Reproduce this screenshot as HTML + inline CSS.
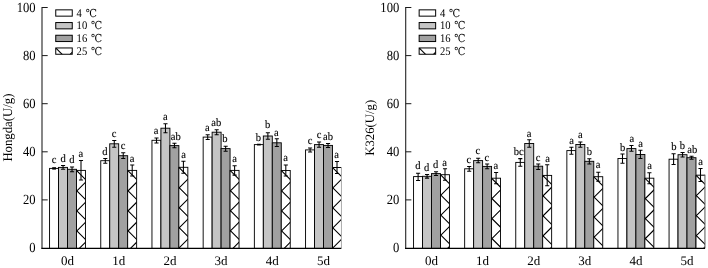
<!DOCTYPE html>
<html><head><meta charset="utf-8"><title>chart</title>
<style>
html,body{margin:0;padding:0;background:#fff;}
svg{display:block;}
text{font-family:"Liberation Serif","DejaVu Serif","Noto Serif CJK SC",serif;fill:#000;text-rendering:geometricPrecision;}
.lt{stroke:#000;stroke-width:0.12px;}
.dc{font-family:"DejaVu Serif","Noto Serif CJK SC",serif;}
</style></head><body>
<svg width="708" height="268" viewBox="0 0 708 268">
<rect width="708" height="268" fill="#fff"/>
<rect x="49.56" y="168.40" width="8.97" height="80.00" fill="#ffffff"/>
<rect x="49.56" y="168.40" width="8.97" height="80.00" fill="none" stroke="#000" stroke-width="0.92"/>
<rect x="58.53" y="167.40" width="8.97" height="81.00" fill="#c5c5c5"/>
<rect x="58.53" y="167.40" width="8.97" height="81.00" fill="none" stroke="#000" stroke-width="0.92"/>
<rect x="67.50" y="169.30" width="8.97" height="79.10" fill="#a1a1a1"/>
<rect x="67.50" y="169.30" width="8.97" height="79.10" fill="none" stroke="#000" stroke-width="0.92"/>
<rect x="76.47" y="170.40" width="8.97" height="78.00" fill="#ffffff"/>
<clipPath id="h1"><rect x="76.47" y="170.40" width="8.97" height="78.00"/></clipPath><path clip-path="url(#h1)" d="M74.47 28.40L87.44 41.37M87.44 40.23L74.47 53.20M74.47 48.40L87.44 61.37M87.44 60.23L74.47 73.20M74.47 68.40L87.44 81.37M87.44 80.23L74.47 93.20M74.47 88.40L87.44 101.37M87.44 100.23L74.47 113.20M74.47 108.40L87.44 121.37M87.44 120.23L74.47 133.20M74.47 128.40L87.44 141.37M87.44 140.23L74.47 153.20M74.47 148.40L87.44 161.37M87.44 160.23L74.47 173.20M74.47 168.40L87.44 181.37M87.44 180.23L74.47 193.20M74.47 188.40L87.44 201.37M87.44 200.23L74.47 213.20M74.47 208.40L87.44 221.37M87.44 220.23L74.47 233.20M74.47 228.40L87.44 241.37M87.44 240.23L74.47 253.20M74.47 248.40L87.44 261.37M87.44 260.23L74.47 273.20M74.47 268.40L87.44 281.37M87.44 280.23L74.47 293.20M74.47 288.40L87.44 301.37M87.44 300.23L74.47 313.20M74.47 308.40L87.44 321.37M87.44 320.23L74.47 333.20" stroke="#000" stroke-width="1.1" fill="none"/>
<rect x="76.47" y="170.40" width="8.97" height="78.00" fill="none" stroke="#000" stroke-width="0.92"/>
<rect x="100.76" y="160.70" width="8.97" height="87.70" fill="#ffffff"/>
<rect x="100.76" y="160.70" width="8.97" height="87.70" fill="none" stroke="#000" stroke-width="0.92"/>
<rect x="109.73" y="143.80" width="8.97" height="104.60" fill="#c5c5c5"/>
<rect x="109.73" y="143.80" width="8.97" height="104.60" fill="none" stroke="#000" stroke-width="0.92"/>
<rect x="118.70" y="155.70" width="8.97" height="92.70" fill="#a1a1a1"/>
<rect x="118.70" y="155.70" width="8.97" height="92.70" fill="none" stroke="#000" stroke-width="0.92"/>
<rect x="127.67" y="170.40" width="8.97" height="78.00" fill="#ffffff"/>
<clipPath id="h2"><rect x="127.67" y="170.40" width="8.97" height="78.00"/></clipPath><path clip-path="url(#h2)" d="M125.67 28.40L138.64 41.37M138.64 40.23L125.67 53.20M125.67 48.40L138.64 61.37M138.64 60.23L125.67 73.20M125.67 68.40L138.64 81.37M138.64 80.23L125.67 93.20M125.67 88.40L138.64 101.37M138.64 100.23L125.67 113.20M125.67 108.40L138.64 121.37M138.64 120.23L125.67 133.20M125.67 128.40L138.64 141.37M138.64 140.23L125.67 153.20M125.67 148.40L138.64 161.37M138.64 160.23L125.67 173.20M125.67 168.40L138.64 181.37M138.64 180.23L125.67 193.20M125.67 188.40L138.64 201.37M138.64 200.23L125.67 213.20M125.67 208.40L138.64 221.37M138.64 220.23L125.67 233.20M125.67 228.40L138.64 241.37M138.64 240.23L125.67 253.20M125.67 248.40L138.64 261.37M138.64 260.23L125.67 273.20M125.67 268.40L138.64 281.37M138.64 280.23L125.67 293.20M125.67 288.40L138.64 301.37M138.64 300.23L125.67 313.20M125.67 308.40L138.64 321.37M138.64 320.23L125.67 333.20" stroke="#000" stroke-width="1.1" fill="none"/>
<rect x="127.67" y="170.40" width="8.97" height="78.00" fill="none" stroke="#000" stroke-width="0.92"/>
<rect x="151.96" y="140.30" width="8.97" height="108.10" fill="#ffffff"/>
<rect x="151.96" y="140.30" width="8.97" height="108.10" fill="none" stroke="#000" stroke-width="0.92"/>
<rect x="160.93" y="128.20" width="8.97" height="120.20" fill="#c5c5c5"/>
<rect x="160.93" y="128.20" width="8.97" height="120.20" fill="none" stroke="#000" stroke-width="0.92"/>
<rect x="169.90" y="145.60" width="8.97" height="102.80" fill="#a1a1a1"/>
<rect x="169.90" y="145.60" width="8.97" height="102.80" fill="none" stroke="#000" stroke-width="0.92"/>
<rect x="178.87" y="167.30" width="8.97" height="81.10" fill="#ffffff"/>
<clipPath id="h3"><rect x="178.87" y="167.30" width="8.97" height="81.10"/></clipPath><path clip-path="url(#h3)" d="M176.87 25.30L189.84 38.27M189.84 37.13L176.87 50.10M176.87 45.30L189.84 58.27M189.84 57.13L176.87 70.10M176.87 65.30L189.84 78.27M189.84 77.13L176.87 90.10M176.87 85.30L189.84 98.27M189.84 97.13L176.87 110.10M176.87 105.30L189.84 118.27M189.84 117.13L176.87 130.10M176.87 125.30L189.84 138.27M189.84 137.13L176.87 150.10M176.87 145.30L189.84 158.27M189.84 157.13L176.87 170.10M176.87 165.30L189.84 178.27M189.84 177.13L176.87 190.10M176.87 185.30L189.84 198.27M189.84 197.13L176.87 210.10M176.87 205.30L189.84 218.27M189.84 217.13L176.87 230.10M176.87 225.30L189.84 238.27M189.84 237.13L176.87 250.10M176.87 245.30L189.84 258.27M189.84 257.13L176.87 270.10M176.87 265.30L189.84 278.27M189.84 277.13L176.87 290.10M176.87 285.30L189.84 298.27M189.84 297.13L176.87 310.10M176.87 305.30L189.84 318.27M189.84 317.13L176.87 330.10" stroke="#000" stroke-width="1.1" fill="none"/>
<rect x="178.87" y="167.30" width="8.97" height="81.10" fill="none" stroke="#000" stroke-width="0.92"/>
<rect x="203.16" y="137.10" width="8.97" height="111.30" fill="#ffffff"/>
<rect x="203.16" y="137.10" width="8.97" height="111.30" fill="none" stroke="#000" stroke-width="0.92"/>
<rect x="212.13" y="132.20" width="8.97" height="116.20" fill="#c5c5c5"/>
<rect x="212.13" y="132.20" width="8.97" height="116.20" fill="none" stroke="#000" stroke-width="0.92"/>
<rect x="221.10" y="148.60" width="8.97" height="99.80" fill="#a1a1a1"/>
<rect x="221.10" y="148.60" width="8.97" height="99.80" fill="none" stroke="#000" stroke-width="0.92"/>
<rect x="230.07" y="170.40" width="8.97" height="78.00" fill="#ffffff"/>
<clipPath id="h4"><rect x="230.07" y="170.40" width="8.97" height="78.00"/></clipPath><path clip-path="url(#h4)" d="M228.07 28.40L241.04 41.37M241.04 40.23L228.07 53.20M228.07 48.40L241.04 61.37M241.04 60.23L228.07 73.20M228.07 68.40L241.04 81.37M241.04 80.23L228.07 93.20M228.07 88.40L241.04 101.37M241.04 100.23L228.07 113.20M228.07 108.40L241.04 121.37M241.04 120.23L228.07 133.20M228.07 128.40L241.04 141.37M241.04 140.23L228.07 153.20M228.07 148.40L241.04 161.37M241.04 160.23L228.07 173.20M228.07 168.40L241.04 181.37M241.04 180.23L228.07 193.20M228.07 188.40L241.04 201.37M241.04 200.23L228.07 213.20M228.07 208.40L241.04 221.37M241.04 220.23L228.07 233.20M228.07 228.40L241.04 241.37M241.04 240.23L228.07 253.20M228.07 248.40L241.04 261.37M241.04 260.23L228.07 273.20M228.07 268.40L241.04 281.37M241.04 280.23L228.07 293.20M228.07 288.40L241.04 301.37M241.04 300.23L228.07 313.20M228.07 308.40L241.04 321.37M241.04 320.23L228.07 333.20" stroke="#000" stroke-width="1.1" fill="none"/>
<rect x="230.07" y="170.40" width="8.97" height="78.00" fill="none" stroke="#000" stroke-width="0.92"/>
<rect x="254.36" y="144.60" width="8.97" height="103.80" fill="#ffffff"/>
<rect x="254.36" y="144.60" width="8.97" height="103.80" fill="none" stroke="#000" stroke-width="0.92"/>
<rect x="263.33" y="136.00" width="8.97" height="112.40" fill="#c5c5c5"/>
<rect x="263.33" y="136.00" width="8.97" height="112.40" fill="none" stroke="#000" stroke-width="0.92"/>
<rect x="272.30" y="142.80" width="8.97" height="105.60" fill="#a1a1a1"/>
<rect x="272.30" y="142.80" width="8.97" height="105.60" fill="none" stroke="#000" stroke-width="0.92"/>
<rect x="281.27" y="170.50" width="8.97" height="77.90" fill="#ffffff"/>
<clipPath id="h5"><rect x="281.27" y="170.50" width="8.97" height="77.90"/></clipPath><path clip-path="url(#h5)" d="M279.27 28.50L292.24 41.47M292.24 40.33L279.27 53.30M279.27 48.50L292.24 61.47M292.24 60.33L279.27 73.30M279.27 68.50L292.24 81.47M292.24 80.33L279.27 93.30M279.27 88.50L292.24 101.47M292.24 100.33L279.27 113.30M279.27 108.50L292.24 121.47M292.24 120.33L279.27 133.30M279.27 128.50L292.24 141.47M292.24 140.33L279.27 153.30M279.27 148.50L292.24 161.47M292.24 160.33L279.27 173.30M279.27 168.50L292.24 181.47M292.24 180.33L279.27 193.30M279.27 188.50L292.24 201.47M292.24 200.33L279.27 213.30M279.27 208.50L292.24 221.47M292.24 220.33L279.27 233.30M279.27 228.50L292.24 241.47M292.24 240.33L279.27 253.30M279.27 248.50L292.24 261.47M292.24 260.33L279.27 273.30M279.27 268.50L292.24 281.47M292.24 280.33L279.27 293.30M279.27 288.50L292.24 301.47M292.24 300.33L279.27 313.30M279.27 308.50L292.24 321.47M292.24 320.33L279.27 333.30" stroke="#000" stroke-width="1.1" fill="none"/>
<rect x="281.27" y="170.50" width="8.97" height="77.90" fill="none" stroke="#000" stroke-width="0.92"/>
<rect x="305.56" y="149.90" width="8.97" height="98.50" fill="#ffffff"/>
<rect x="305.56" y="149.90" width="8.97" height="98.50" fill="none" stroke="#000" stroke-width="0.92"/>
<rect x="314.53" y="144.60" width="8.97" height="103.80" fill="#c5c5c5"/>
<rect x="314.53" y="144.60" width="8.97" height="103.80" fill="none" stroke="#000" stroke-width="0.92"/>
<rect x="323.50" y="145.40" width="8.97" height="103.00" fill="#a1a1a1"/>
<rect x="323.50" y="145.40" width="8.97" height="103.00" fill="none" stroke="#000" stroke-width="0.92"/>
<rect x="332.47" y="167.50" width="8.97" height="80.90" fill="#ffffff"/>
<clipPath id="h6"><rect x="332.47" y="167.50" width="8.97" height="80.90"/></clipPath><path clip-path="url(#h6)" d="M330.47 25.50L343.44 38.47M343.44 37.33L330.47 50.30M330.47 45.50L343.44 58.47M343.44 57.33L330.47 70.30M330.47 65.50L343.44 78.47M343.44 77.33L330.47 90.30M330.47 85.50L343.44 98.47M343.44 97.33L330.47 110.30M330.47 105.50L343.44 118.47M343.44 117.33L330.47 130.30M330.47 125.50L343.44 138.47M343.44 137.33L330.47 150.30M330.47 145.50L343.44 158.47M343.44 157.33L330.47 170.30M330.47 165.50L343.44 178.47M343.44 177.33L330.47 190.30M330.47 185.50L343.44 198.47M343.44 197.33L330.47 210.30M330.47 205.50L343.44 218.47M343.44 217.33L330.47 230.30M330.47 225.50L343.44 238.47M343.44 237.33L330.47 250.30M330.47 245.50L343.44 258.47M343.44 257.33L330.47 270.30M330.47 265.50L343.44 278.47M343.44 277.33L330.47 290.30M330.47 285.50L343.44 298.47M343.44 297.33L330.47 310.30M330.47 305.50L343.44 318.47M343.44 317.33L330.47 330.30" stroke="#000" stroke-width="1.1" fill="none"/>
<path d="M332.47 248.40V167.50H341.44" fill="none" stroke="#000" stroke-width="1"/>
<path d="M341.44 167.00V248.40" fill="none" stroke="#aaa" stroke-width="1"/>
<path d="M52.20 168.40H55.99" stroke="#000" stroke-width="2.40" fill="none"/>
<path d="M63.06 165.40V169.30M61.02 165.40H65.11M61.02 169.30H65.11" stroke="#000" stroke-width="1.05" fill="none"/>
<path d="M72.03 166.90V171.70M69.98 166.90H74.08M69.98 171.70H74.08" stroke="#000" stroke-width="1.05" fill="none"/>
<path d="M81.00 160.50V180.00M78.95 160.50H83.05M78.95 180.00H83.05" stroke="#000" stroke-width="1.05" fill="none"/>
<path d="M105.30 158.40V163.20M103.25 158.40H107.34M103.25 163.20H107.34" stroke="#000" stroke-width="1.05" fill="none"/>
<path d="M114.27 140.50V147.20M112.22 140.50H116.31M112.22 147.20H116.31" stroke="#000" stroke-width="1.05" fill="none"/>
<path d="M123.23 152.80V158.40M121.19 152.80H125.28M121.19 158.40H125.28" stroke="#000" stroke-width="1.05" fill="none"/>
<path d="M132.21 165.00V176.00M130.16 165.00H134.26M130.16 176.00H134.26" stroke="#000" stroke-width="1.05" fill="none"/>
<path d="M156.50 137.90V142.90M154.45 137.90H158.55M154.45 142.90H158.55" stroke="#000" stroke-width="1.05" fill="none"/>
<path d="M165.47 123.70V132.70M163.42 123.70H167.52M163.42 132.70H167.52" stroke="#000" stroke-width="1.05" fill="none"/>
<path d="M174.44 143.30V147.80M172.39 143.30H176.49M172.39 147.80H176.49" stroke="#000" stroke-width="1.05" fill="none"/>
<path d="M183.41 161.30V173.30M181.36 161.30H185.46M181.36 173.30H185.46" stroke="#000" stroke-width="1.05" fill="none"/>
<path d="M207.70 134.80V139.40M205.65 134.80H209.75M205.65 139.40H209.75" stroke="#000" stroke-width="1.05" fill="none"/>
<path d="M216.67 129.70V134.80M214.62 129.70H218.72M214.62 134.80H218.72" stroke="#000" stroke-width="1.05" fill="none"/>
<path d="M225.64 146.20V151.20M223.59 146.20H227.69M223.59 151.20H227.69" stroke="#000" stroke-width="1.05" fill="none"/>
<path d="M234.61 165.70V175.10M232.56 165.70H236.66M232.56 175.10H236.66" stroke="#000" stroke-width="1.05" fill="none"/>
<path d="M257.00 144.60H260.80" stroke="#000" stroke-width="1.70" fill="none"/>
<path d="M267.87 132.70V139.30M265.82 132.70H269.92M265.82 139.30H269.92" stroke="#000" stroke-width="1.05" fill="none"/>
<path d="M276.84 138.70V146.40M274.79 138.70H278.89M274.79 146.40H278.89" stroke="#000" stroke-width="1.05" fill="none"/>
<path d="M285.81 165.00V176.00M283.76 165.00H287.86M283.76 176.00H287.86" stroke="#000" stroke-width="1.05" fill="none"/>
<path d="M310.10 147.90V152.00M308.05 147.90H312.15M308.05 152.00H312.15" stroke="#000" stroke-width="1.05" fill="none"/>
<path d="M319.07 141.90V147.20M317.02 141.90H321.12M317.02 147.20H321.12" stroke="#000" stroke-width="1.05" fill="none"/>
<path d="M328.04 143.40V147.50M325.99 143.40H330.09M325.99 147.50H330.09" stroke="#000" stroke-width="1.05" fill="none"/>
<path d="M337.01 161.50V173.50M334.96 161.50H339.06M334.96 173.50H339.06" stroke="#000" stroke-width="1.05" fill="none"/>
<path d="M42.00 6.90V248.40" stroke="#444" stroke-width="1.3" fill="none"/>
<path d="M41.35 248.40H341.30" stroke="#000" stroke-width="1.3" fill="none"/>
<path d="M42.00 7.50H47.70" stroke="#1a1a1a" stroke-width="1.0" fill="none"/>
<text transform="translate(35.60 11.60) scale(0.970 1.070)" text-anchor="end" font-size="13">100</text>
<path d="M42.00 55.60H47.70" stroke="#1a1a1a" stroke-width="1.0" fill="none"/>
<text transform="translate(35.60 59.70) scale(0.970 1.070)" text-anchor="end" font-size="13">80</text>
<path d="M42.00 103.70H47.70" stroke="#1a1a1a" stroke-width="1.0" fill="none"/>
<text transform="translate(35.60 107.80) scale(0.970 1.070)" text-anchor="end" font-size="13">60</text>
<path d="M42.00 151.80H47.70" stroke="#1a1a1a" stroke-width="1.0" fill="none"/>
<text transform="translate(35.60 155.90) scale(0.970 1.070)" text-anchor="end" font-size="13">40</text>
<path d="M42.00 199.90H47.70" stroke="#1a1a1a" stroke-width="1.0" fill="none"/>
<text transform="translate(35.60 204.00) scale(0.970 1.070)" text-anchor="end" font-size="13">20</text>
<text transform="translate(35.60 252.10) scale(0.970 1.070)" text-anchor="end" font-size="13">0</text>
<text x="67.50" y="265.00" text-anchor="middle" font-size="13">0d</text>
<text x="118.70" y="265.00" text-anchor="middle" font-size="13">1d</text>
<text x="169.90" y="265.00" text-anchor="middle" font-size="13">2d</text>
<text x="221.10" y="265.00" text-anchor="middle" font-size="13">3d</text>
<text x="272.30" y="265.00" text-anchor="middle" font-size="13">4d</text>
<text x="323.50" y="265.00" text-anchor="middle" font-size="13">5d</text>
<text transform="translate(54.00 163.30) scale(1.000 1.040)" text-anchor="middle" font-size="10.6" class="lt">c</text>
<text transform="translate(63.20 161.60) scale(1.000 1.040)" text-anchor="middle" font-size="10.6" class="lt">d</text>
<text transform="translate(71.90 163.40) scale(1.000 1.040)" text-anchor="middle" font-size="10.6" class="lt">d</text>
<text transform="translate(80.90 157.10) scale(1.000 1.040)" text-anchor="middle" font-size="10.6" class="lt">a</text>
<text transform="translate(105.00 154.60) scale(1.000 1.040)" text-anchor="middle" font-size="10.6" class="lt">d</text>
<text transform="translate(114.00 136.60) scale(1.000 1.040)" text-anchor="middle" font-size="10.6" class="lt">c</text>
<text transform="translate(123.20 148.60) scale(1.000 1.040)" text-anchor="middle" font-size="10.6" class="lt">c</text>
<text transform="translate(132.20 161.60) scale(1.000 1.040)" text-anchor="middle" font-size="10.6" class="lt">a</text>
<text transform="translate(156.00 134.40) scale(1.000 1.040)" text-anchor="middle" font-size="10.6" class="lt">a</text>
<text transform="translate(165.40 120.10) scale(1.000 1.040)" text-anchor="middle" font-size="10.6" class="lt">a</text>
<text transform="translate(175.80 139.60) scale(1.000 1.040)" text-anchor="middle" font-size="10.6" class="lt">ab</text>
<text transform="translate(183.60 157.60) scale(1.000 1.040)" text-anchor="middle" font-size="10.6" class="lt">a</text>
<text transform="translate(207.40 131.40) scale(1.000 1.040)" text-anchor="middle" font-size="10.6" class="lt">a</text>
<text transform="translate(216.30 126.10) scale(1.000 1.040)" text-anchor="middle" font-size="10.6" class="lt">ab</text>
<text transform="translate(225.00 142.30) scale(1.000 1.040)" text-anchor="middle" font-size="10.6" class="lt">b</text>
<text transform="translate(234.60 162.40) scale(1.000 1.040)" text-anchor="middle" font-size="10.6" class="lt">a</text>
<text transform="translate(258.50 140.70) scale(1.000 1.040)" text-anchor="middle" font-size="10.6" class="lt">b</text>
<text transform="translate(267.70 128.40) scale(1.000 1.040)" text-anchor="middle" font-size="10.6" class="lt">b</text>
<text transform="translate(276.40 135.60) scale(1.000 1.040)" text-anchor="middle" font-size="10.6" class="lt">a</text>
<text transform="translate(285.60 161.30) scale(1.000 1.040)" text-anchor="middle" font-size="10.6" class="lt">a</text>
<text transform="translate(310.10 144.10) scale(1.000 1.040)" text-anchor="middle" font-size="10.6" class="lt">c</text>
<text transform="translate(319.10 137.80) scale(1.000 1.040)" text-anchor="middle" font-size="10.6" class="lt">c</text>
<text transform="translate(328.10 140.40) scale(1.000 1.040)" text-anchor="middle" font-size="10.6" class="lt">ab</text>
<text transform="translate(336.60 158.10) scale(1.000 1.040)" text-anchor="middle" font-size="10.6" class="lt">a</text>
<text transform="translate(12.00 127.60) rotate(-90) scale(1 1.04)" text-anchor="middle" font-size="12.75">Hongda(U/g)</text>
<rect x="55.75" y="9.85" width="16.5" height="6.3" fill="#ffffff" stroke="#000" stroke-width="1.0"/>
<text transform="translate(76.60 16.50) scale(1 1.1)" font-size="10.6">4 <tspan class="dc" dx="1.1" font-size="10">℃</tspan></text>
<rect x="55.75" y="22.55" width="16.5" height="6.3" fill="#c5c5c5" stroke="#000" stroke-width="1.0"/>
<text transform="translate(76.60 29.20) scale(1 1.1)" font-size="10.6">10 <tspan class="dc" dx="1.1" font-size="10">℃</tspan></text>
<rect x="55.75" y="35.25" width="16.5" height="6.3" fill="#a1a1a1" stroke="#000" stroke-width="1.0"/>
<text transform="translate(76.60 41.90) scale(1 1.1)" font-size="10.6">16 <tspan class="dc" dx="1.1" font-size="10">℃</tspan></text>
<rect x="55.75" y="47.95" width="16.5" height="6.3" fill="#ffffff"/>
<clipPath id="h7"><rect x="55.75" y="47.95" width="16.50" height="6.30"/></clipPath><path clip-path="url(#h7)" d="M53.75 -34.05L74.25 -13.55M74.25 -29.75L53.75 -9.25M53.75 -14.05L74.25 6.45M74.25 -9.75L53.75 10.75M53.75 5.95L74.25 26.45M74.25 10.25L53.75 30.75M53.75 25.95L74.25 46.45M74.25 30.25L53.75 50.75M53.75 45.95L74.25 66.45M74.25 50.25L53.75 70.75M53.75 65.95L74.25 86.45M74.25 70.25L53.75 90.75M53.75 85.95L74.25 106.45M74.25 90.25L53.75 110.75M53.75 105.95L74.25 126.45M74.25 110.25L53.75 130.75M53.75 125.95L74.25 146.45M74.25 130.25L53.75 150.75" stroke="#000" stroke-width="1.1" fill="none"/>
<rect x="55.75" y="47.95" width="16.5" height="6.3" fill="none" stroke="#000" stroke-width="1.0"/>
<text transform="translate(76.60 54.60) scale(1 1.1)" font-size="10.6">25 <tspan class="dc" dx="1.1" font-size="10">℃</tspan></text>
<rect x="413.56" y="176.60" width="8.97" height="71.80" fill="#ffffff"/>
<rect x="413.56" y="176.60" width="8.97" height="71.80" fill="none" stroke="#000" stroke-width="0.92"/>
<rect x="422.53" y="176.30" width="8.97" height="72.10" fill="#c5c5c5"/>
<rect x="422.53" y="176.30" width="8.97" height="72.10" fill="none" stroke="#000" stroke-width="0.92"/>
<rect x="431.50" y="173.60" width="8.97" height="74.80" fill="#a1a1a1"/>
<rect x="431.50" y="173.60" width="8.97" height="74.80" fill="none" stroke="#000" stroke-width="0.92"/>
<rect x="440.47" y="174.70" width="8.97" height="73.70" fill="#ffffff"/>
<clipPath id="h8"><rect x="440.47" y="174.70" width="8.97" height="73.70"/></clipPath><path clip-path="url(#h8)" d="M438.47 32.70L451.44 45.67M451.44 44.53L438.47 57.50M438.47 52.70L451.44 65.67M451.44 64.53L438.47 77.50M438.47 72.70L451.44 85.67M451.44 84.53L438.47 97.50M438.47 92.70L451.44 105.67M451.44 104.53L438.47 117.50M438.47 112.70L451.44 125.67M451.44 124.53L438.47 137.50M438.47 132.70L451.44 145.67M451.44 144.53L438.47 157.50M438.47 152.70L451.44 165.67M451.44 164.53L438.47 177.50M438.47 172.70L451.44 185.67M451.44 184.53L438.47 197.50M438.47 192.70L451.44 205.67M451.44 204.53L438.47 217.50M438.47 212.70L451.44 225.67M451.44 224.53L438.47 237.50M438.47 232.70L451.44 245.67M451.44 244.53L438.47 257.50M438.47 252.70L451.44 265.67M451.44 264.53L438.47 277.50M438.47 272.70L451.44 285.67M451.44 284.53L438.47 297.50M438.47 292.70L451.44 305.67M451.44 304.53L438.47 317.50M438.47 312.70L451.44 325.67M451.44 324.53L438.47 337.50" stroke="#000" stroke-width="1.1" fill="none"/>
<rect x="440.47" y="174.70" width="8.97" height="73.70" fill="none" stroke="#000" stroke-width="0.92"/>
<rect x="464.66" y="168.80" width="8.97" height="79.60" fill="#ffffff"/>
<rect x="464.66" y="168.80" width="8.97" height="79.60" fill="none" stroke="#000" stroke-width="0.92"/>
<rect x="473.63" y="160.60" width="8.97" height="87.80" fill="#c5c5c5"/>
<rect x="473.63" y="160.60" width="8.97" height="87.80" fill="none" stroke="#000" stroke-width="0.92"/>
<rect x="482.60" y="166.40" width="8.97" height="82.00" fill="#a1a1a1"/>
<rect x="482.60" y="166.40" width="8.97" height="82.00" fill="none" stroke="#000" stroke-width="0.92"/>
<rect x="491.57" y="178.20" width="8.97" height="70.20" fill="#ffffff"/>
<clipPath id="h9"><rect x="491.57" y="178.20" width="8.97" height="70.20"/></clipPath><path clip-path="url(#h9)" d="M489.57 56.20L502.54 69.17M502.54 68.03L489.57 81.00M489.57 76.20L502.54 89.17M502.54 88.03L489.57 101.00M489.57 96.20L502.54 109.17M502.54 108.03L489.57 121.00M489.57 116.20L502.54 129.17M502.54 128.03L489.57 141.00M489.57 136.20L502.54 149.17M502.54 148.03L489.57 161.00M489.57 156.20L502.54 169.17M502.54 168.03L489.57 181.00M489.57 176.20L502.54 189.17M502.54 188.03L489.57 201.00M489.57 196.20L502.54 209.17M502.54 208.03L489.57 221.00M489.57 216.20L502.54 229.17M502.54 228.03L489.57 241.00M489.57 236.20L502.54 249.17M502.54 248.03L489.57 261.00M489.57 256.20L502.54 269.17M502.54 268.03L489.57 281.00M489.57 276.20L502.54 289.17M502.54 288.03L489.57 301.00M489.57 296.20L502.54 309.17M502.54 308.03L489.57 321.00" stroke="#000" stroke-width="1.1" fill="none"/>
<rect x="491.57" y="178.20" width="8.97" height="70.20" fill="none" stroke="#000" stroke-width="0.92"/>
<rect x="515.76" y="162.40" width="8.97" height="86.00" fill="#ffffff"/>
<rect x="515.76" y="162.40" width="8.97" height="86.00" fill="none" stroke="#000" stroke-width="0.92"/>
<rect x="524.73" y="143.50" width="8.97" height="104.90" fill="#c5c5c5"/>
<rect x="524.73" y="143.50" width="8.97" height="104.90" fill="none" stroke="#000" stroke-width="0.92"/>
<rect x="533.70" y="166.20" width="8.97" height="82.20" fill="#a1a1a1"/>
<rect x="533.70" y="166.20" width="8.97" height="82.20" fill="none" stroke="#000" stroke-width="0.92"/>
<rect x="542.67" y="175.40" width="8.97" height="73.00" fill="#ffffff"/>
<clipPath id="h10"><rect x="542.67" y="175.40" width="8.97" height="73.00"/></clipPath><path clip-path="url(#h10)" d="M540.67 33.40L553.64 46.37M553.64 45.23L540.67 58.20M540.67 53.40L553.64 66.37M553.64 65.23L540.67 78.20M540.67 73.40L553.64 86.37M553.64 85.23L540.67 98.20M540.67 93.40L553.64 106.37M553.64 105.23L540.67 118.20M540.67 113.40L553.64 126.37M553.64 125.23L540.67 138.20M540.67 133.40L553.64 146.37M553.64 145.23L540.67 158.20M540.67 153.40L553.64 166.37M553.64 165.23L540.67 178.20M540.67 173.40L553.64 186.37M553.64 185.23L540.67 198.20M540.67 193.40L553.64 206.37M553.64 205.23L540.67 218.20M540.67 213.40L553.64 226.37M553.64 225.23L540.67 238.20M540.67 233.40L553.64 246.37M553.64 245.23L540.67 258.20M540.67 253.40L553.64 266.37M553.64 265.23L540.67 278.20M540.67 273.40L553.64 286.37M553.64 285.23L540.67 298.20M540.67 293.40L553.64 306.37M553.64 305.23L540.67 318.20M540.67 313.40L553.64 326.37M553.64 325.23L540.67 338.20" stroke="#000" stroke-width="1.1" fill="none"/>
<rect x="542.67" y="175.40" width="8.97" height="73.00" fill="none" stroke="#000" stroke-width="0.92"/>
<rect x="566.86" y="150.60" width="8.97" height="97.80" fill="#ffffff"/>
<rect x="566.86" y="150.60" width="8.97" height="97.80" fill="none" stroke="#000" stroke-width="0.92"/>
<rect x="575.83" y="144.50" width="8.97" height="103.90" fill="#c5c5c5"/>
<rect x="575.83" y="144.50" width="8.97" height="103.90" fill="none" stroke="#000" stroke-width="0.92"/>
<rect x="584.80" y="161.30" width="8.97" height="87.10" fill="#a1a1a1"/>
<rect x="584.80" y="161.30" width="8.97" height="87.10" fill="none" stroke="#000" stroke-width="0.92"/>
<rect x="593.77" y="176.70" width="8.97" height="71.70" fill="#ffffff"/>
<clipPath id="h11"><rect x="593.77" y="176.70" width="8.97" height="71.70"/></clipPath><path clip-path="url(#h11)" d="M591.77 34.70L604.74 47.67M604.74 46.53L591.77 59.50M591.77 54.70L604.74 67.67M604.74 66.53L591.77 79.50M591.77 74.70L604.74 87.67M604.74 86.53L591.77 99.50M591.77 94.70L604.74 107.67M604.74 106.53L591.77 119.50M591.77 114.70L604.74 127.67M604.74 126.53L591.77 139.50M591.77 134.70L604.74 147.67M604.74 146.53L591.77 159.50M591.77 154.70L604.74 167.67M604.74 166.53L591.77 179.50M591.77 174.70L604.74 187.67M604.74 186.53L591.77 199.50M591.77 194.70L604.74 207.67M604.74 206.53L591.77 219.50M591.77 214.70L604.74 227.67M604.74 226.53L591.77 239.50M591.77 234.70L604.74 247.67M604.74 246.53L591.77 259.50M591.77 254.70L604.74 267.67M604.74 266.53L591.77 279.50M591.77 274.70L604.74 287.67M604.74 286.53L591.77 299.50M591.77 294.70L604.74 307.67M604.74 306.53L591.77 319.50M591.77 314.70L604.74 327.67M604.74 326.53L591.77 339.50" stroke="#000" stroke-width="1.1" fill="none"/>
<rect x="593.77" y="176.70" width="8.97" height="71.70" fill="none" stroke="#000" stroke-width="0.92"/>
<rect x="617.96" y="158.50" width="8.97" height="89.90" fill="#ffffff"/>
<rect x="617.96" y="158.50" width="8.97" height="89.90" fill="none" stroke="#000" stroke-width="0.92"/>
<rect x="626.93" y="148.60" width="8.97" height="99.80" fill="#c5c5c5"/>
<rect x="626.93" y="148.60" width="8.97" height="99.80" fill="none" stroke="#000" stroke-width="0.92"/>
<rect x="635.90" y="154.50" width="8.97" height="93.90" fill="#a1a1a1"/>
<rect x="635.90" y="154.50" width="8.97" height="93.90" fill="none" stroke="#000" stroke-width="0.92"/>
<rect x="644.87" y="178.20" width="8.97" height="70.20" fill="#ffffff"/>
<clipPath id="h12"><rect x="644.87" y="178.20" width="8.97" height="70.20"/></clipPath><path clip-path="url(#h12)" d="M642.87 56.20L655.84 69.17M655.84 68.03L642.87 81.00M642.87 76.20L655.84 89.17M655.84 88.03L642.87 101.00M642.87 96.20L655.84 109.17M655.84 108.03L642.87 121.00M642.87 116.20L655.84 129.17M655.84 128.03L642.87 141.00M642.87 136.20L655.84 149.17M655.84 148.03L642.87 161.00M642.87 156.20L655.84 169.17M655.84 168.03L642.87 181.00M642.87 176.20L655.84 189.17M655.84 188.03L642.87 201.00M642.87 196.20L655.84 209.17M655.84 208.03L642.87 221.00M642.87 216.20L655.84 229.17M655.84 228.03L642.87 241.00M642.87 236.20L655.84 249.17M655.84 248.03L642.87 261.00M642.87 256.20L655.84 269.17M655.84 268.03L642.87 281.00M642.87 276.20L655.84 289.17M655.84 288.03L642.87 301.00M642.87 296.20L655.84 309.17M655.84 308.03L642.87 321.00" stroke="#000" stroke-width="1.1" fill="none"/>
<rect x="644.87" y="178.20" width="8.97" height="70.20" fill="none" stroke="#000" stroke-width="0.92"/>
<rect x="669.06" y="159.20" width="8.97" height="89.20" fill="#ffffff"/>
<rect x="669.06" y="159.20" width="8.97" height="89.20" fill="none" stroke="#000" stroke-width="0.92"/>
<rect x="678.03" y="154.70" width="8.97" height="93.70" fill="#c5c5c5"/>
<rect x="678.03" y="154.70" width="8.97" height="93.70" fill="none" stroke="#000" stroke-width="0.92"/>
<rect x="687.00" y="157.70" width="8.97" height="90.70" fill="#a1a1a1"/>
<rect x="687.00" y="157.70" width="8.97" height="90.70" fill="none" stroke="#000" stroke-width="0.92"/>
<rect x="695.97" y="175.20" width="8.97" height="73.20" fill="#ffffff"/>
<clipPath id="h13"><rect x="695.97" y="175.20" width="8.97" height="73.20"/></clipPath><path clip-path="url(#h13)" d="M693.97 33.20L706.94 46.17M706.94 45.03L693.97 58.00M693.97 53.20L706.94 66.17M706.94 65.03L693.97 78.00M693.97 73.20L706.94 86.17M706.94 85.03L693.97 98.00M693.97 93.20L706.94 106.17M706.94 105.03L693.97 118.00M693.97 113.20L706.94 126.17M706.94 125.03L693.97 138.00M693.97 133.20L706.94 146.17M706.94 145.03L693.97 158.00M693.97 153.20L706.94 166.17M706.94 165.03L693.97 178.00M693.97 173.20L706.94 186.17M706.94 185.03L693.97 198.00M693.97 193.20L706.94 206.17M706.94 205.03L693.97 218.00M693.97 213.20L706.94 226.17M706.94 225.03L693.97 238.00M693.97 233.20L706.94 246.17M706.94 245.03L693.97 258.00M693.97 253.20L706.94 266.17M706.94 265.03L693.97 278.00M693.97 273.20L706.94 286.17M706.94 285.03L693.97 298.00M693.97 293.20L706.94 306.17M706.94 305.03L693.97 318.00M693.97 313.20L706.94 326.17M706.94 325.03L693.97 338.00" stroke="#000" stroke-width="1.1" fill="none"/>
<path d="M695.97 248.40V175.20H704.94" fill="none" stroke="#000" stroke-width="1"/>
<path d="M704.94 174.70V248.40" fill="none" stroke="#555" stroke-width="1"/>
<path d="M418.10 173.20V180.40M416.05 173.20H420.15M416.05 180.40H420.15" stroke="#000" stroke-width="1.05" fill="none"/>
<path d="M427.07 174.40V178.10M425.02 174.40H429.12M425.02 178.10H429.12" stroke="#000" stroke-width="1.05" fill="none"/>
<path d="M436.04 171.70V175.40M433.99 171.70H438.09M433.99 175.40H438.09" stroke="#000" stroke-width="1.05" fill="none"/>
<path d="M445.01 168.70V180.30M442.96 168.70H447.06M442.96 180.30H447.06" stroke="#000" stroke-width="1.05" fill="none"/>
<path d="M469.20 166.50V171.30M467.15 166.50H471.25M467.15 171.30H471.25" stroke="#000" stroke-width="1.05" fill="none"/>
<path d="M478.17 158.20V162.70M476.12 158.20H480.22M476.12 162.70H480.22" stroke="#000" stroke-width="1.05" fill="none"/>
<path d="M487.14 163.90V168.70M485.09 163.90H489.19M485.09 168.70H489.19" stroke="#000" stroke-width="1.05" fill="none"/>
<path d="M496.11 172.50V183.70M494.06 172.50H498.16M494.06 183.70H498.16" stroke="#000" stroke-width="1.05" fill="none"/>
<path d="M520.29 158.60V166.30M518.25 158.60H522.34M518.25 166.30H522.34" stroke="#000" stroke-width="1.05" fill="none"/>
<path d="M529.26 139.70V147.20M527.22 139.70H531.31M527.22 147.20H531.31" stroke="#000" stroke-width="1.05" fill="none"/>
<path d="M538.24 163.90V169.40M536.19 163.90H540.28M536.19 169.40H540.28" stroke="#000" stroke-width="1.05" fill="none"/>
<path d="M547.20 164.70V185.70M545.15 164.70H549.25M545.15 185.70H549.25" stroke="#000" stroke-width="1.05" fill="none"/>
<path d="M571.39 147.20V154.30M569.34 147.20H573.44M569.34 154.30H573.44" stroke="#000" stroke-width="1.05" fill="none"/>
<path d="M580.36 142.00V147.20M578.31 142.00H582.41M578.31 147.20H582.41" stroke="#000" stroke-width="1.05" fill="none"/>
<path d="M589.33 158.70V163.90M587.28 158.70H591.38M587.28 163.90H591.38" stroke="#000" stroke-width="1.05" fill="none"/>
<path d="M598.30 172.20V181.20M596.25 172.20H600.35M596.25 181.20H600.35" stroke="#000" stroke-width="1.05" fill="none"/>
<path d="M622.49 154.00V163.20M620.44 154.00H624.54M620.44 163.20H624.54" stroke="#000" stroke-width="1.05" fill="none"/>
<path d="M631.46 145.40V151.30M629.41 145.40H633.51M629.41 151.30H633.51" stroke="#000" stroke-width="1.05" fill="none"/>
<path d="M640.43 150.20V158.40M638.38 150.20H642.48M638.38 158.40H642.48" stroke="#000" stroke-width="1.05" fill="none"/>
<path d="M649.40 172.70V183.70M647.35 172.70H651.45M647.35 183.70H651.45" stroke="#000" stroke-width="1.05" fill="none"/>
<path d="M673.59 153.70V164.40M671.54 153.70H675.64M671.54 164.40H675.64" stroke="#000" stroke-width="1.05" fill="none"/>
<path d="M682.56 152.50V156.90M680.51 152.50H684.61M680.51 156.90H684.61" stroke="#000" stroke-width="1.05" fill="none"/>
<path d="M691.53 156.20V159.20M689.49 156.20H693.58M689.49 159.20H693.58" stroke="#000" stroke-width="1.05" fill="none"/>
<path d="M700.50 168.50V181.50M698.45 168.50H702.55M698.45 181.50H702.55" stroke="#000" stroke-width="1.05" fill="none"/>
<path d="M405.65 6.90V248.40" stroke="#444" stroke-width="1.3" fill="none"/>
<path d="M405.00 248.40H705.00" stroke="#000" stroke-width="1.3" fill="none"/>
<path d="M405.65 7.50H411.35" stroke="#1a1a1a" stroke-width="1.0" fill="none"/>
<text transform="translate(399.25 11.60) scale(0.970 1.070)" text-anchor="end" font-size="13">100</text>
<path d="M405.65 55.60H411.35" stroke="#1a1a1a" stroke-width="1.0" fill="none"/>
<text transform="translate(399.25 59.70) scale(0.970 1.070)" text-anchor="end" font-size="13">80</text>
<path d="M405.65 103.70H411.35" stroke="#1a1a1a" stroke-width="1.0" fill="none"/>
<text transform="translate(399.25 107.80) scale(0.970 1.070)" text-anchor="end" font-size="13">60</text>
<path d="M405.65 151.80H411.35" stroke="#1a1a1a" stroke-width="1.0" fill="none"/>
<text transform="translate(399.25 155.90) scale(0.970 1.070)" text-anchor="end" font-size="13">40</text>
<path d="M405.65 199.90H411.35" stroke="#1a1a1a" stroke-width="1.0" fill="none"/>
<text transform="translate(399.25 204.00) scale(0.970 1.070)" text-anchor="end" font-size="13">20</text>
<text transform="translate(399.25 252.10) scale(0.970 1.070)" text-anchor="end" font-size="13">0</text>
<text x="431.50" y="265.00" text-anchor="middle" font-size="13">0d</text>
<text x="482.60" y="265.00" text-anchor="middle" font-size="13">1d</text>
<text x="533.70" y="265.00" text-anchor="middle" font-size="13">2d</text>
<text x="584.80" y="265.00" text-anchor="middle" font-size="13">3d</text>
<text x="635.90" y="265.00" text-anchor="middle" font-size="13">4d</text>
<text x="687.00" y="265.00" text-anchor="middle" font-size="13">5d</text>
<text transform="translate(418.00 169.40) scale(1.000 1.040)" text-anchor="middle" font-size="10.6" class="lt">d</text>
<text transform="translate(426.60 170.60) scale(1.000 1.040)" text-anchor="middle" font-size="10.6" class="lt">d</text>
<text transform="translate(435.60 168.20) scale(1.000 1.040)" text-anchor="middle" font-size="10.6" class="lt">d</text>
<text transform="translate(444.60 165.60) scale(1.000 1.040)" text-anchor="middle" font-size="10.6" class="lt">a</text>
<text transform="translate(468.90 162.60) scale(1.000 1.040)" text-anchor="middle" font-size="10.6" class="lt">c</text>
<text transform="translate(477.80 154.40) scale(1.000 1.040)" text-anchor="middle" font-size="10.6" class="lt">c</text>
<text transform="translate(486.80 160.70) scale(1.000 1.040)" text-anchor="middle" font-size="10.6" class="lt">c</text>
<text transform="translate(495.80 169.40) scale(1.000 1.040)" text-anchor="middle" font-size="10.6" class="lt">a</text>
<text transform="translate(518.70 155.00) scale(1.000 1.040)" text-anchor="middle" font-size="10.6" class="lt">bc</text>
<text transform="translate(529.20 136.60) scale(1.000 1.040)" text-anchor="middle" font-size="10.6" class="lt">a</text>
<text transform="translate(538.20 160.60) scale(1.000 1.040)" text-anchor="middle" font-size="10.6" class="lt">c</text>
<text transform="translate(547.60 162.10) scale(1.000 1.040)" text-anchor="middle" font-size="10.6" class="lt">a</text>
<text transform="translate(571.60 143.70) scale(1.000 1.040)" text-anchor="middle" font-size="10.6" class="lt">a</text>
<text transform="translate(580.40 138.10) scale(1.000 1.040)" text-anchor="middle" font-size="10.6" class="lt">a</text>
<text transform="translate(589.40 155.30) scale(1.000 1.040)" text-anchor="middle" font-size="10.6" class="lt">b</text>
<text transform="translate(598.00 168.30) scale(1.000 1.040)" text-anchor="middle" font-size="10.6" class="lt">a</text>
<text transform="translate(622.70 150.60) scale(1.000 1.040)" text-anchor="middle" font-size="10.6" class="lt">b</text>
<text transform="translate(631.90 141.60) scale(1.000 1.040)" text-anchor="middle" font-size="10.6" class="lt">a</text>
<text transform="translate(640.60 147.10) scale(1.000 1.040)" text-anchor="middle" font-size="10.6" class="lt">a</text>
<text transform="translate(649.60 169.00) scale(1.000 1.040)" text-anchor="middle" font-size="10.6" class="lt">a</text>
<text transform="translate(673.90 150.10) scale(1.000 1.040)" text-anchor="middle" font-size="10.6" class="lt">b</text>
<text transform="translate(682.50 149.40) scale(1.000 1.040)" text-anchor="middle" font-size="10.6" class="lt">b</text>
<text transform="translate(692.30 153.10) scale(1.000 1.040)" text-anchor="middle" font-size="10.6" class="lt">ab</text>
<text transform="translate(700.70 164.60) scale(1.000 1.040)" text-anchor="middle" font-size="10.6" class="lt">a</text>
<text transform="translate(374.00 127.80) rotate(-90) scale(1 1.00)" text-anchor="middle" font-size="12.75">K326(U/g)</text>
<rect x="419.15" y="9.85" width="16.5" height="6.3" fill="#ffffff" stroke="#000" stroke-width="1.0"/>
<text transform="translate(440.00 16.50) scale(1 1.1)" font-size="10.6">4 <tspan class="dc" dx="1.1" font-size="10">℃</tspan></text>
<rect x="419.15" y="22.55" width="16.5" height="6.3" fill="#c5c5c5" stroke="#000" stroke-width="1.0"/>
<text transform="translate(440.00 29.20) scale(1 1.1)" font-size="10.6">10 <tspan class="dc" dx="1.1" font-size="10">℃</tspan></text>
<rect x="419.15" y="35.25" width="16.5" height="6.3" fill="#a1a1a1" stroke="#000" stroke-width="1.0"/>
<text transform="translate(440.00 41.90) scale(1 1.1)" font-size="10.6">16 <tspan class="dc" dx="1.1" font-size="10">℃</tspan></text>
<rect x="419.15" y="47.95" width="16.5" height="6.3" fill="#ffffff"/>
<clipPath id="h14"><rect x="419.15" y="47.95" width="16.50" height="6.30"/></clipPath><path clip-path="url(#h14)" d="M417.15 -34.05L437.65 -13.55M437.65 -29.75L417.15 -9.25M417.15 -14.05L437.65 6.45M437.65 -9.75L417.15 10.75M417.15 5.95L437.65 26.45M437.65 10.25L417.15 30.75M417.15 25.95L437.65 46.45M437.65 30.25L417.15 50.75M417.15 45.95L437.65 66.45M437.65 50.25L417.15 70.75M417.15 65.95L437.65 86.45M437.65 70.25L417.15 90.75M417.15 85.95L437.65 106.45M437.65 90.25L417.15 110.75M417.15 105.95L437.65 126.45M437.65 110.25L417.15 130.75M417.15 125.95L437.65 146.45M437.65 130.25L417.15 150.75" stroke="#000" stroke-width="1.1" fill="none"/>
<rect x="419.15" y="47.95" width="16.5" height="6.3" fill="none" stroke="#000" stroke-width="1.0"/>
<text transform="translate(440.00 54.60) scale(1 1.1)" font-size="10.6">25 <tspan class="dc" dx="1.1" font-size="10">℃</tspan></text>
</svg>
</body></html>
